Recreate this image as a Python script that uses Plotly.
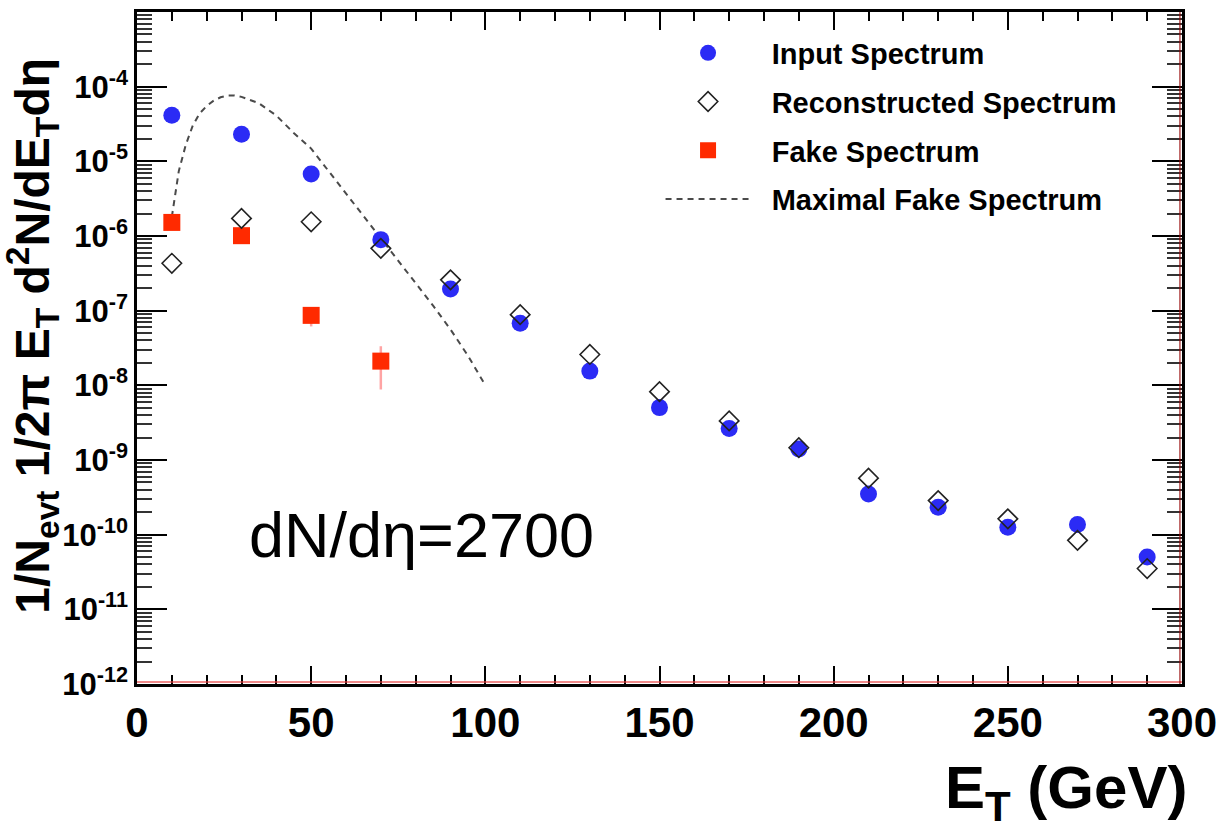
import plotly.graph_objects as go

# ---------------- data ----------------
et_bins = [10, 30, 50, 70, 90, 110, 130, 150, 170, 190, 210, 230, 250, 270, 290]

input_spectrum = [4.14e-5, 2.31e-5, 6.78e-6, 8.94e-7, 1.95e-7, 6.78e-8, 1.55e-8,
                  5.03e-9, 2.64e-9, 1.40e-9, 3.50e-10, 2.33e-10, 1.26e-10, 1.37e-10, 5.02e-11]

reco_spectrum = [4.31e-7, 1.72e-6, 1.55e-6, 6.84e-7, 2.59e-7, 8.85e-8, 2.59e-8,
                 8.22e-9, 3.34e-9, 1.46e-9, 5.71e-10, 2.86e-10, 1.63e-10, 8.4e-11, 3.52e-11]

fake_et = [10, 30, 50, 70]
fake_spectrum = [1.52e-6, 1.01e-6, 8.65e-8, 2.11e-8]
fake_err = [1.0e-7, 8.0e-8, 2.5e-8, 1.23e-8]

maxfake_et = [10, 12, 14, 16, 18, 20, 22, 24, 26, 28, 30, 35, 40, 45, 50,
              55, 60, 65, 70, 75, 80, 85, 90, 95, 100]
maxfake_spectrum = [1.8e-6, 7.4e-6, 1.66e-5, 3.0e-5, 4.4e-5, 5.5e-5, 6.5e-5, 7.2e-5,
                    7.6e-5, 7.6e-5, 7.3e-5, 6.0e-5, 4.1e-5, 2.4e-5, 1.48e-5,
                    7.4e-6, 3.8e-6, 1.9e-6, 9.5e-7, 4.7e-7, 2.35e-7, 1.17e-7,
                    5.6e-8, 2.5e-8, 1.0e-8]

x_tick_vals = [0, 50, 100, 150, 200, 250, 300]
y_tick_exps = [-4, -5, -6, -7, -8, -9, -10, -11, -12]
y_tick_vals = [10.0 ** e for e in y_tick_exps]
y_tick_text = ["10<sup>%d</sup>" % e for e in y_tick_exps]
y_minor_vals = [m * 10.0 ** e for e in range(-12, -3) for m in range(2, 10)]

FONT = "Liberation Sans, Arial, Helvetica, sans-serif"
NB = "\u00a0\u00a0"

fig = go.Figure()

fig.add_trace(go.Scatter(
    x=maxfake_et, y=maxfake_spectrum, mode="lines",
    line=dict(color="#4a4a4a", width=2, dash="6px,5px"),
    name=NB + "<b>Maximal Fake Spectrum</b>", legendrank=4, legendgroup="d"))

fig.add_trace(go.Scatter(
    x=fake_et, y=fake_spectrum, mode="markers",
    marker=dict(symbol="square", size=17, color="#ff2a00"),
    error_y=dict(type="data", array=fake_err, color="rgba(255,90,90,0.55)",
                 thickness=2.5, width=0),
    name=NB + "<b>Fake Spectrum</b>", legendrank=3, legendgroup="c"))

fig.add_trace(go.Scatter(
    x=et_bins, y=input_spectrum, mode="markers",
    marker=dict(symbol="circle", size=17, color="#2b2bf5"),
    name=NB + "<b>Input Spectrum</b>", legendrank=1, legendgroup="a"))

fig.add_trace(go.Scatter(
    x=et_bins, y=reco_spectrum, mode="markers",
    marker=dict(symbol="diamond-open", size=15, color="#222222",
                line=dict(width=1.6, color="#222222")),
    name=NB + "<b>Reconstructed Spectrum</b>", legendrank=2, legendgroup="b"))

L, R, T, B = 137, 43, 9, 146
fig.update_layout(
    width=1226, height=830,
    margin=dict(l=L, r=R, t=T, b=B),
    paper_bgcolor="white", plot_bgcolor="white",
    font=dict(family=FONT, color="black"),
    showlegend=True,
    legend=dict(x=0.501, y=0.977, xanchor="left", yanchor="top",
                font=dict(size=29, family=FONT, color="black"),
                itemwidth=85, tracegroupgap=8,
                bgcolor="rgba(0,0,0,0)", borderwidth=0),
)

fig.update_xaxes(
    range=[0, 300], tickvals=x_tick_vals,
    ticks="inside", ticklen=18, tickwidth=1.5, tickcolor="black",
    minor=dict(dtick=10, ticks="inside", ticklen=9, tickwidth=1.5,
               tickcolor="black", showgrid=False),
    showgrid=False, zeroline=False,
    showline=True, linecolor="black", linewidth=2.5, mirror="allticks",
    tickfont=dict(size=42, family=FONT, color="black", weight="bold"),
)

fig.update_yaxes(
    type="log", range=[-12, -3],
    tickmode="array", tickvals=y_tick_vals, ticktext=y_tick_text,
    ticks="inside", ticklen=30, tickwidth=1.5, tickcolor="black",
    minor=dict(tickmode="array", tickvals=y_minor_vals, ticks="inside",
               ticklen=15, tickwidth=1.5, tickcolor="#333333", showgrid=False),
    showgrid=False, zeroline=False,
    showline=True, linecolor="black", linewidth=2.5, mirror="allticks",
    tickfont=dict(size=31, family=FONT, color="black", weight="bold"),
)

# thin red line along the lower frame edge, as in the reference
fig.add_shape(type="line", xref="paper", yref="paper", x0=0, x1=1, y0=0.003, y1=0.003,
              line=dict(color="rgba(230,60,60,0.6)", width=2))
fig.add_shape(type="line", xref="paper", yref="paper", x0=0.998, x1=0.998, y0=0, y1=1,
              line=dict(color="rgba(150,0,0,0.7)", width=1.5))

# axis titles and label
fig.add_annotation(
    text="<b>E<sub>T</sub> (GeV)</b>", xref="paper", yref="paper",
    x=1.007, y=-0.16, xanchor="right", yanchor="middle", showarrow=False,
    font=dict(size=60, family=FONT, color="black"))

fig.add_annotation(
    text="<b>1/N<sub>evt</sub> 1/2\u03c0 E<sub>T</sub> d<sup>2</sup>N/dE<sub>T</sub>d\u03b7</b>",
    xref="paper", yref="paper", x=-0.100, y=0.5175, xanchor="center", yanchor="middle",
    textangle=-90, showarrow=False,
    font=dict(size=48, family=FONT, color="black"))

fig.add_annotation(
    text="dN/d\u03b7=2700", xref="paper", yref="paper",
    x=0.105, y=0.221, xanchor="left", yanchor="middle", showarrow=False,
    font=dict(size=63, family=FONT, color="black"))

fig.write_html("out.html")
